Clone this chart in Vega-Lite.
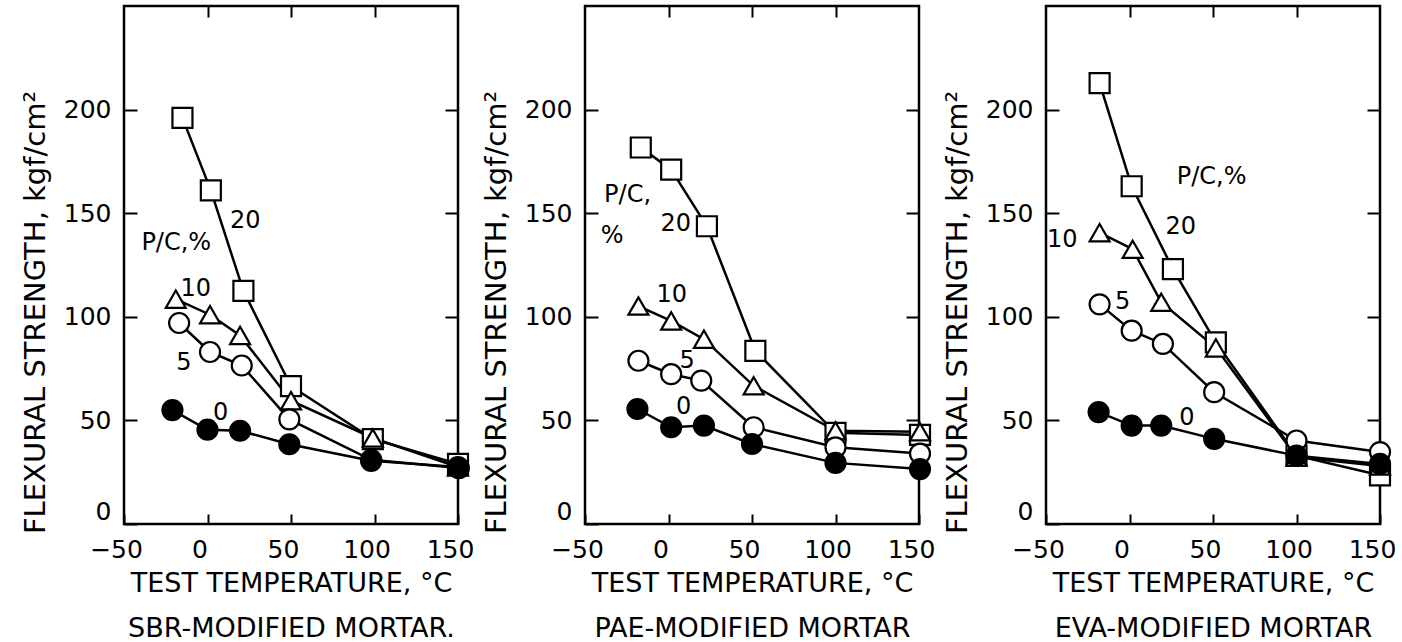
{
  "$schema": "https://vega.github.io/schema/vega-lite/v6.json",
  "padding": {"left": 20, "top": 3, "right": 0, "bottom": 0},
  "background": "white",
  "spacing": 127,
  "bounds": "flush",
  "config": {
    "view": {"stroke": "black", "strokeWidth": 2.5},
    "axis": {
      "grid": false, "domain": false,
      "tickColor": "black", "tickWidth": 2,
      "labelFont": "DejaVu Sans", "labelFontSize": 25, "labelColor": "black",
      "labelFlush": false, "labelOverlap": false,
      "titleFont": "DejaVu Sans", "titleColor": "black", "titleFontWeight": "normal"
    },
    "text": {"font": "DejaVu Sans"}
  },
  "datasets": {
    "pts": [
      {"panel": "SBR", "pc": "20", "t": -15, "s": 196},
      {"panel": "SBR", "pc": "20", "t": 2, "s": 161},
      {"panel": "SBR", "pc": "20", "t": 21.5, "s": 112.5},
      {"panel": "SBR", "pc": "20", "t": 50, "s": 66.5},
      {"panel": "SBR", "pc": "20", "t": 99, "s": 41},
      {"panel": "SBR", "pc": "20", "t": 150, "s": 29},
      {"panel": "SBR", "pc": "10", "t": -19, "s": 108.5},
      {"panel": "SBR", "pc": "10", "t": 1.5, "s": 101},
      {"panel": "SBR", "pc": "10", "t": 19.5, "s": 91},
      {"panel": "SBR", "pc": "10", "t": 50, "s": 59.5},
      {"panel": "SBR", "pc": "10", "t": 99, "s": 41.5},
      {"panel": "SBR", "pc": "10", "t": 150, "s": 27.5},
      {"panel": "SBR", "pc": "5", "t": -17, "s": 97},
      {"panel": "SBR", "pc": "5", "t": 1.5, "s": 83},
      {"panel": "SBR", "pc": "5", "t": 20.5, "s": 76.5},
      {"panel": "SBR", "pc": "5", "t": 49, "s": 50.5},
      {"panel": "SBR", "pc": "5", "t": 98, "s": 31},
      {"panel": "SBR", "pc": "5", "t": 150.5, "s": 27},
      {"panel": "SBR", "pc": "0", "t": -21, "s": 55},
      {"panel": "SBR", "pc": "0", "t": 0, "s": 45.5},
      {"panel": "SBR", "pc": "0", "t": 19.5, "s": 45},
      {"panel": "SBR", "pc": "0", "t": 49, "s": 38.5},
      {"panel": "SBR", "pc": "0", "t": 98, "s": 30.5},
      {"panel": "SBR", "pc": "0", "t": 150, "s": 27.5},
      {"panel": "PAE", "pc": "20", "t": -16.6, "s": 181.7},
      {"panel": "PAE", "pc": "20", "t": 1.6, "s": 171},
      {"panel": "PAE", "pc": "20", "t": 23, "s": 143.7},
      {"panel": "PAE", "pc": "20", "t": 52, "s": 83.6},
      {"panel": "PAE", "pc": "20", "t": 100, "s": 44},
      {"panel": "PAE", "pc": "20", "t": 150.6, "s": 43},
      {"panel": "PAE", "pc": "10", "t": -18, "s": 105.2},
      {"panel": "PAE", "pc": "10", "t": 1.6, "s": 98},
      {"panel": "PAE", "pc": "10", "t": 21.2, "s": 89.2},
      {"panel": "PAE", "pc": "10", "t": 51, "s": 66.7},
      {"panel": "PAE", "pc": "10", "t": 100, "s": 45},
      {"panel": "PAE", "pc": "10", "t": 150.6, "s": 44.5},
      {"panel": "PAE", "pc": "5", "t": -18, "s": 78.8},
      {"panel": "PAE", "pc": "5", "t": 1.6, "s": 72.3},
      {"panel": "PAE", "pc": "5", "t": 19.6, "s": 69.2},
      {"panel": "PAE", "pc": "5", "t": 51, "s": 46.7},
      {"panel": "PAE", "pc": "5", "t": 100, "s": 37},
      {"panel": "PAE", "pc": "5", "t": 150.6, "s": 34},
      {"panel": "PAE", "pc": "0", "t": -18.6, "s": 55.5},
      {"panel": "PAE", "pc": "0", "t": 1.6, "s": 46.7},
      {"panel": "PAE", "pc": "0", "t": 21.2, "s": 47.5},
      {"panel": "PAE", "pc": "0", "t": 50, "s": 38.6},
      {"panel": "PAE", "pc": "0", "t": 100, "s": 29.5},
      {"panel": "PAE", "pc": "0", "t": 150.6, "s": 26.5},
      {"panel": "EVA", "pc": "20", "t": -17.9, "s": 212.8},
      {"panel": "EVA", "pc": "20", "t": 1.3, "s": 163},
      {"panel": "EVA", "pc": "20", "t": 26, "s": 123},
      {"panel": "EVA", "pc": "20", "t": 51.7, "s": 87.7},
      {"panel": "EVA", "pc": "20", "t": 100, "s": 33},
      {"panel": "EVA", "pc": "20", "t": 150, "s": 23.5},
      {"panel": "EVA", "pc": "10", "t": -17.9, "s": 140.6},
      {"panel": "EVA", "pc": "10", "t": 1.9, "s": 132.6},
      {"panel": "EVA", "pc": "10", "t": 19, "s": 107},
      {"panel": "EVA", "pc": "10", "t": 51.7, "s": 85},
      {"panel": "EVA", "pc": "10", "t": 100, "s": 32.3},
      {"panel": "EVA", "pc": "10", "t": 150, "s": 28},
      {"panel": "EVA", "pc": "5", "t": -17.9, "s": 106},
      {"panel": "EVA", "pc": "5", "t": 1.3, "s": 93.3},
      {"panel": "EVA", "pc": "5", "t": 20, "s": 86.9},
      {"panel": "EVA", "pc": "5", "t": 50.7, "s": 63.6},
      {"panel": "EVA", "pc": "5", "t": 100, "s": 40.3},
      {"panel": "EVA", "pc": "5", "t": 150, "s": 34.7},
      {"panel": "EVA", "pc": "0", "t": -18.5, "s": 54},
      {"panel": "EVA", "pc": "0", "t": 1.3, "s": 47.5},
      {"panel": "EVA", "pc": "0", "t": 19, "s": 47.5},
      {"panel": "EVA", "pc": "0", "t": 50.7, "s": 41.1},
      {"panel": "EVA", "pc": "0", "t": 100, "s": 33},
      {"panel": "EVA", "pc": "0", "t": 150, "s": 29}
    ],
    "labels": [
      {"panel": "SBR", "label": "P/C,%", "t": -18.7, "s": 135.5},
      {"panel": "SBR", "label": "20", "t": 22.6, "s": 146.4},
      {"panel": "SBR", "label": "10", "t": -7, "s": 113.5},
      {"panel": "SBR", "label": "5", "t": -14.1, "s": 77.9},
      {"panel": "SBR", "label": "0", "t": 7.8, "s": 53.7},
      {"panel": "PAE", "label": "P/C,", "t": -24.5, "s": 158.6},
      {"panel": "PAE", "label": "%", "t": -33.8, "s": 139},
      {"panel": "PAE", "label": "20", "t": 4.4, "s": 145},
      {"panel": "PAE", "label": "10", "t": 2, "s": 110.4},
      {"panel": "PAE", "label": "5", "t": 11.2, "s": 78.8},
      {"panel": "PAE", "label": "0", "t": 9.1, "s": 56.3},
      {"panel": "EVA", "label": "P/C,%", "t": 49.2, "s": 167.5},
      {"panel": "EVA", "label": "20", "t": 30.7, "s": 143.4},
      {"panel": "EVA", "label": "10", "t": -40.3, "s": 137},
      {"panel": "EVA", "label": "5", "t": -4.1, "s": 107.3},
      {"panel": "EVA", "label": "0", "t": 34.4, "s": 51.3}
    ]
  },
  "hconcat": [
    {
      "width": 334, "height": 518,
      "resolve": {"axis": {"x": "independent", "y": "independent"}},
      "layer": [
        {
          "data": {"name": "pts"},
          "transform": [{"filter": "datum.panel == 'SBR'"}],
          "mark": {"type": "line", "stroke": "black", "strokeWidth": 2.5},
          "encoding": {
            "x": {"field": "t", "type": "quantitative", "scale": {"domain": [-50, 150], "nice": false, "zero": false},
              "axis": {"orient": "bottom", "values": [-50, 0, 50, 100, 150], "tickSize": -10, "labelPadding": 23, "labelOffset": -8,
                "title": ["TEST TEMPERATURE, °C", "SBR-MODIFIED MORTAR."], "titleFontSize": 27, "titleLineHeight": 45, "titlePadding": 8}},
            "y": {"field": "s", "type": "quantitative", "scale": {"domain": [0, 250], "nice": false},
              "axis": {"orient": "left", "values": [0, 50, 100, 150, 200], "tickSize": -13, "labelPadding": 26, "labelFlush": true,
                "title": "FLEXURAL STRENGTH, kgf/cm²", "titleFontSize": 29, "titlePadding": 13, "titleY": 306}},
            "detail": {"field": "pc"}
          }
        },
        {
          "data": {"name": "pts"},
          "transform": [{"filter": "datum.panel == 'SBR'"}],
          "mark": {"type": "point", "filled": true, "stroke": "black", "strokeWidth": 2.2, "size": 400, "opacity": 1},
          "encoding": {
            "x": {"field": "t", "type": "quantitative", "axis": {"orient": "top", "values": [0, 50, 100], "tickSize": -11, "labels": false, "title": null}},
            "y": {"field": "s", "type": "quantitative", "axis": {"orient": "right", "values": [50, 100, 150, 200], "tickSize": -13, "labels": false, "title": null}},
            "shape": {"field": "pc", "type": "nominal", "scale": {"domain": ["0", "5", "10", "20"], "range": ["circle", "circle", "triangle-up", "square"]}, "legend": null},
            "fill": {"field": "pc", "type": "nominal", "scale": {"domain": ["0", "5", "10", "20"], "range": ["black", "white", "white", "white"]}, "legend": null}
          }
        },
        {
          "data": {"name": "labels"},
          "transform": [{"filter": "datum.panel == 'SBR'"}],
          "mark": {"type": "text", "fontSize": 24, "color": "black", "align": "center", "baseline": "middle"},
          "encoding": {
            "x": {"field": "t", "type": "quantitative", "axis": null},
            "y": {"field": "s", "type": "quantitative", "axis": null},
            "text": {"field": "label"}
          }
        }
      ]
    },
    {
      "width": 334, "height": 518,
      "resolve": {"axis": {"x": "independent", "y": "independent"}},
      "layer": [
        {
          "data": {"name": "pts"},
          "transform": [{"filter": "datum.panel == 'PAE'"}],
          "mark": {"type": "line", "stroke": "black", "strokeWidth": 2.5},
          "encoding": {
            "x": {"field": "t", "type": "quantitative", "scale": {"domain": [-50, 150], "nice": false, "zero": false},
              "axis": {"orient": "bottom", "values": [-50, 0, 50, 100, 150], "tickSize": -10, "labelPadding": 23, "labelOffset": -8,
                "title": ["TEST TEMPERATURE, °C", "PAE-MODIFIED MORTAR"], "titleFontSize": 27, "titleLineHeight": 45, "titlePadding": 8}},
            "y": {"field": "s", "type": "quantitative", "scale": {"domain": [0, 250], "nice": false},
              "axis": {"orient": "left", "values": [0, 50, 100, 150, 200], "tickSize": -13, "labelPadding": 26, "labelFlush": true,
                "title": "FLEXURAL STRENGTH, kgf/cm²", "titleFontSize": 29, "titlePadding": 13, "titleY": 306}},
            "detail": {"field": "pc"}
          }
        },
        {
          "data": {"name": "pts"},
          "transform": [{"filter": "datum.panel == 'PAE'"}],
          "mark": {"type": "point", "filled": true, "stroke": "black", "strokeWidth": 2.2, "size": 400, "opacity": 1},
          "encoding": {
            "x": {"field": "t", "type": "quantitative", "axis": {"orient": "top", "values": [0, 50, 100], "tickSize": -11, "labels": false, "title": null}},
            "y": {"field": "s", "type": "quantitative", "axis": {"orient": "right", "values": [50, 100, 150, 200], "tickSize": -13, "labels": false, "title": null}},
            "shape": {"field": "pc", "type": "nominal", "scale": {"domain": ["0", "5", "10", "20"], "range": ["circle", "circle", "triangle-up", "square"]}, "legend": null},
            "fill": {"field": "pc", "type": "nominal", "scale": {"domain": ["0", "5", "10", "20"], "range": ["black", "white", "white", "white"]}, "legend": null}
          }
        },
        {
          "data": {"name": "labels"},
          "transform": [{"filter": "datum.panel == 'PAE'"}],
          "mark": {"type": "text", "fontSize": 24, "color": "black", "align": "center", "baseline": "middle"},
          "encoding": {
            "x": {"field": "t", "type": "quantitative", "axis": null},
            "y": {"field": "s", "type": "quantitative", "axis": null},
            "text": {"field": "label"}
          }
        }
      ]
    },
    {
      "width": 334, "height": 518,
      "resolve": {"axis": {"x": "independent", "y": "independent"}},
      "layer": [
        {
          "data": {"name": "pts"},
          "transform": [{"filter": "datum.panel == 'EVA'"}],
          "mark": {"type": "line", "stroke": "black", "strokeWidth": 2.5},
          "encoding": {
            "x": {"field": "t", "type": "quantitative", "scale": {"domain": [-50, 150], "nice": false, "zero": false},
              "axis": {"orient": "bottom", "values": [-50, 0, 50, 100, 150], "tickSize": -10, "labelPadding": 23, "labelOffset": -8,
                "title": ["TEST TEMPERATURE, °C", "EVA-MODIFIED MORTAR"], "titleFontSize": 27, "titleLineHeight": 45, "titlePadding": 8}},
            "y": {"field": "s", "type": "quantitative", "scale": {"domain": [0, 250], "nice": false},
              "axis": {"orient": "left", "values": [0, 50, 100, 150, 200], "tickSize": -13, "labelPadding": 26, "labelFlush": true,
                "title": "FLEXURAL STRENGTH, kgf/cm²", "titleFontSize": 29, "titlePadding": 13, "titleY": 306}},
            "detail": {"field": "pc"}
          }
        },
        {
          "data": {"name": "pts"},
          "transform": [{"filter": "datum.panel == 'EVA'"}],
          "mark": {"type": "point", "filled": true, "stroke": "black", "strokeWidth": 2.2, "size": 400, "opacity": 1},
          "encoding": {
            "x": {"field": "t", "type": "quantitative", "axis": {"orient": "top", "values": [0, 50, 100], "tickSize": -11, "labels": false, "title": null}},
            "y": {"field": "s", "type": "quantitative", "axis": {"orient": "right", "values": [50, 100, 150, 200], "tickSize": -13, "labels": false, "title": null}},
            "shape": {"field": "pc", "type": "nominal", "scale": {"domain": ["0", "5", "10", "20"], "range": ["circle", "circle", "triangle-up", "square"]}, "legend": null},
            "fill": {"field": "pc", "type": "nominal", "scale": {"domain": ["0", "5", "10", "20"], "range": ["black", "white", "white", "white"]}, "legend": null}
          }
        },
        {
          "data": {"name": "labels"},
          "transform": [{"filter": "datum.panel == 'EVA'"}],
          "mark": {"type": "text", "fontSize": 24, "color": "black", "align": "center", "baseline": "middle"},
          "encoding": {
            "x": {"field": "t", "type": "quantitative", "axis": null},
            "y": {"field": "s", "type": "quantitative", "axis": null},
            "text": {"field": "label"}
          }
        }
      ]
    }
  ]
}
